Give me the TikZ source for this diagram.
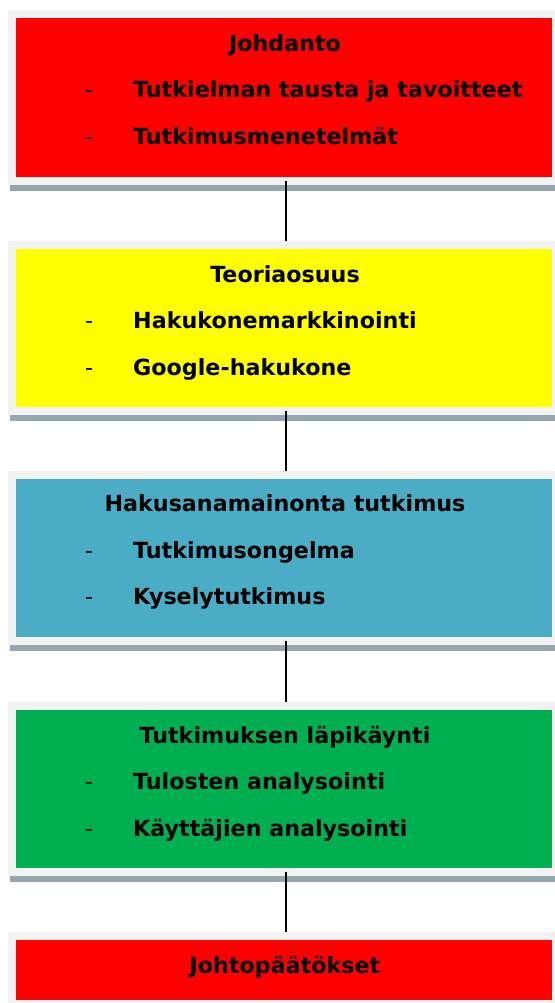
\documentclass[tikz,border=0pt]{standalone}
\usepackage{fontspec}
\setmainfont{DejaVu Sans}
\usepackage{xcolor}
\usepackage{tikz}
\usetikzlibrary{calc,positioning}

\definecolor{framegray}{RGB}{242,242,242}
\definecolor{bargray}{RGB}{146,168,174}
\definecolor{introred}{RGB}{255,0,0}
\definecolor{theoryyellow}{RGB}{255,255,0}
\definecolor{studyblue}{RGB}{75,172,198}
\definecolor{reviewgreen}{RGB}{0,176,80}

\begin{document}
\begin{tikzpicture}[x=1bp,y=-1bp]

\tikzset{backframe/.style = {anchor=north west,fill=framegray,minimum width=554bp,inner sep=0}}
\tikzset{shadowbar/.style = {anchor=north west,fill=bargray,minimum width=552bp,minimum height=6bp,inner sep=0}}
\tikzset{stage/.style = {anchor=north west,minimum width=536bp,inner sep=0}}
\tikzset{title/.style = {anchor=base,inner sep=0,font=\fontsize{22.3}{26}\selectfont\bfseries}}
\tikzset{item/.style = {anchor=base west,inner sep=0,font=\fontsize{22.3}{26}\selectfont\bfseries}}
\tikzset{hyphen/.style = {anchor=base west,inner sep=0,font=\fontsize{22.3}{26}\selectfont}}
\tikzset{link/.style = {draw=black,line width=1.6bp}}

\useasboundingbox (0,0) rectangle (555,1003);

% frames and bars
\node[shadowbar] (bar1) at (10,185) {};
\node[backframe,minimum height=175bp] (frame1) at (8,10) {};
\node[shadowbar] (bar2) at (10,415) {};
\node[backframe,minimum height=174bp] (frame2) at (8,241) {};
\node[shadowbar] (bar3) at (10,645) {};
\node[backframe,minimum height=174bp] (frame3) at (8,471) {};
\node[shadowbar] (bar4) at (10,876) {};
\node[backframe,minimum height=174bp] (frame4) at (8,702) {};
\node[backframe,minimum height=80bp] (frame5) at (8,932) {};

% stages
\node[stage,fill=introred,minimum height=159bp] (intro) at (16,18) {};
\node[stage,fill=theoryyellow,minimum height=158bp] (theory) at (16,249) {};
\node[stage,fill=studyblue,minimum height=158bp] (study) at (16,479) {};
\node[stage,fill=reviewgreen,minimum height=158bp] (review) at (16,710) {};
\node[stage,fill=introred,minimum height=60bp] (outro) at (16,940) {};

% texts
\node[title] (introtitle) at (285,51) {Johdanto};
\node[hyphen] (introdash1) at (85,97) {-};
\node[item] (introitem1) at (133,97) {Tutkielman tausta ja tavoitteet};
\node[hyphen] (introdash2) at (85,144) {-};
\node[item] (introitem2) at (133,144) {Tutkimusmenetelmät};

\node[title] (theorytitle) at (285,282) {Teoriaosuus};
\node[hyphen] (theorydash1) at (85,328) {-};
\node[item] (theoryitem1) at (133,328) {Hakukonemarkkinointi};
\node[hyphen] (theorydash2) at (85,375) {-};
\node[item] (theoryitem2) at (133,375) {Google-hakukone};

\node[title] (studytitle) at (285,511) {Hakusanamainonta tutkimus};
\node[hyphen] (studydash1) at (85,558) {-};
\node[item] (studyitem1) at (133,558) {Tutkimusongelma};
\node[hyphen] (studydash2) at (85,604) {-};
\node[item] (studyitem2) at (133,604) {Kyselytutkimus};

\node[title] (reviewtitle) at (285,743) {Tutkimuksen läpikäynti};
\node[hyphen] (reviewdash1) at (85,789) {-};
\node[item] (reviewitem1) at (133,789) {Tulosten analysointi};
\node[hyphen] (reviewdash2) at (85,836) {-};
\node[item] (reviewitem2) at (133,836) {Käyttäjien analysointi};

\node[title] (outrotitle) at (285,973) {Johtopäätökset};

% connectors
\draw[link] ([xshift=2bp,yshift=-4bp]intro.south) -- ([xshift=2bp]intro.south |- frame2.north);
\draw[link] ([xshift=2bp,yshift=-4bp]theory.south) -- ([xshift=2bp]theory.south |- frame3.north);
\draw[link] ([xshift=2bp,yshift=-4bp]study.south) -- ([xshift=2bp]study.south |- frame4.north);
\draw[link] ([xshift=2bp,yshift=-4bp]review.south) -- ([xshift=2bp]review.south |- frame5.north);
\end{tikzpicture}
\end{document}
